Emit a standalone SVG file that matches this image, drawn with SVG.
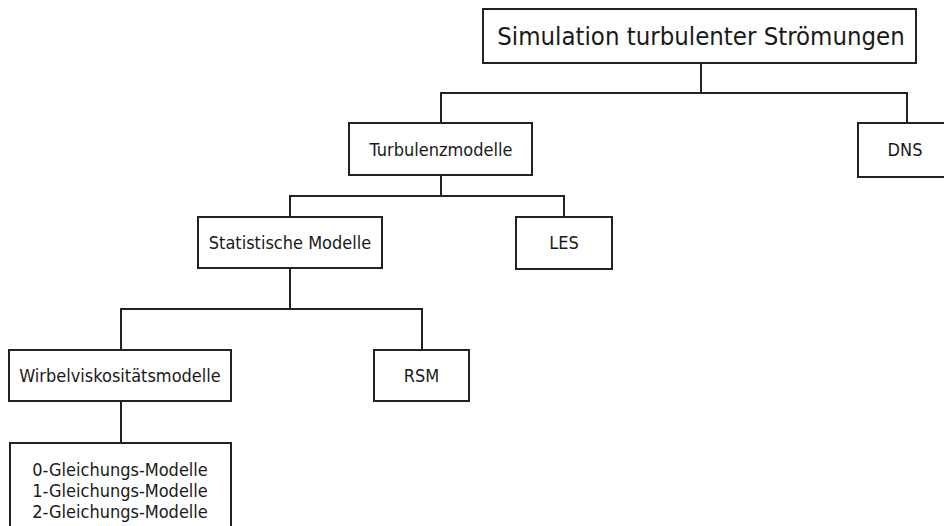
<svg xmlns="http://www.w3.org/2000/svg" width="944" height="526" viewBox="0 0 944 526">
<style>
.box{fill:#fff;stroke:#222;stroke-width:2}
.con{fill:none;stroke:#222;stroke-width:2}
text{font-family:"DejaVu Sans Condensed","DejaVu Sans",sans-serif;fill:#1a1a1a;text-anchor:middle}
.t{font-size:18px}
.big{font-size:25.5px}
</style>
<rect width="944" height="526" fill="#fff"/>
<g id="connectors">
<path class="con" d="M701 63V93M441 123V93H907V123"/>
<path class="con" d="M441 175V196M290 217V196H564V217"/>
<path class="con" d="M290 268V309M121 350V309H422V350"/>
<path class="con" d="M121 401V443"/>
</g>
<g id="n-root"><rect class="box" x="483" y="9" width="433" height="54"/><text class="big" x="701" y="45">Simulation turbulenter Strömungen</text></g>
<g id="n-turb"><rect class="box" x="349" y="123" width="183" height="52"/><text class="t" x="441" y="156">Turbulenzmodelle</text></g>
<g id="n-dns"><rect class="box" x="858" y="123" width="94" height="54"/><text class="t" x="905" y="156">DNS</text></g>
<g id="n-stat"><rect class="box" x="198" y="217" width="184" height="51"/><text class="t" x="290" y="249">Statistische Modelle</text></g>
<g id="n-les"><rect class="box" x="516" y="217" width="96" height="52"/><text class="t" x="564" y="249">LES</text></g>
<g id="n-wirbel"><rect class="box" x="9" y="350" width="222" height="51"/><text class="t" x="120" y="382">Wirbelviskositätsmodelle</text></g>
<g id="n-rsm"><rect class="box" x="374" y="350" width="95" height="51"/><text class="t" x="421.5" y="382">RSM</text></g>
<g id="n-gl"><rect class="box" x="10" y="443" width="221" height="100"/><text class="t" x="120" y="476">0-Gleichungs-Modelle</text><text class="t" x="120" y="497">1-Gleichungs-Modelle</text><text class="t" x="120" y="518">2-Gleichungs-Modelle</text></g>
</svg>
